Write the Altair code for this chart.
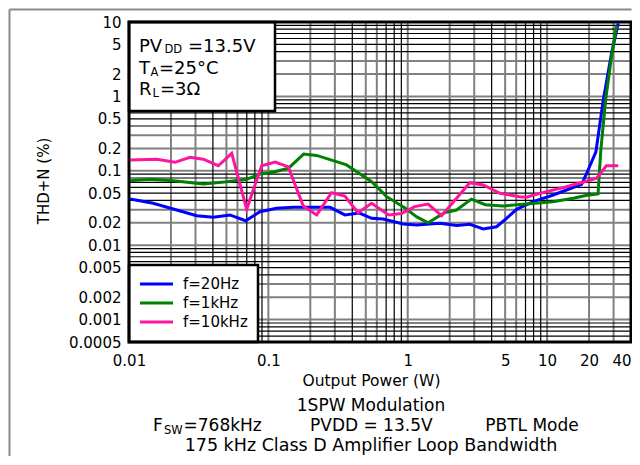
import altair as alt
import pandas as pd

# ---------------- data ----------------
series_names = ["f=20Hz", "f=1kHz", "f=10kHz"]
series_colors = ["#0000ff", "#008000", "#ff14a0"]

p20_x = [0.0102, 0.0149, 0.022, 0.0306, 0.0403, 0.053, 0.0687, 0.087, 0.1146, 0.151,
         0.277, 0.354, 0.45, 0.551, 0.667, 0.928, 1.16, 1.70, 2.24, 2.79, 3.48, 4.34,
         5.12, 6.04, 7.95, 11.07, 17.7, 19.7, 22.4, 25.3, 29.0, 32.4]
p20_y = [0.0418, 0.0366, 0.0297, 0.0249, 0.0237, 0.0255, 0.0213, 0.0282, 0.0313, 0.0323,
         0.0323, 0.0255, 0.027, 0.023, 0.0225, 0.0193, 0.0187, 0.0197, 0.0184, 0.0191, 0.0165, 0.0177,
         0.023, 0.0304, 0.0385, 0.0473, 0.0659, 0.1025, 0.18, 0.895, 3.8, 9.6]

p1k_x = [0.0102, 0.0141, 0.0208, 0.0341, 0.0502, 0.0699, 0.0871, 0.108, 0.139, 0.179,
         0.222, 0.292, 0.364, 0.45, 0.551, 0.706, 0.95, 1.16, 1.40, 1.85, 2.24, 2.86,
         3.6, 4.8, 7.1, 11.0, 15.4, 19.3, 23.2, 24.3, 26.3, 29.0, 31.5]
p1k_y = [0.0736, 0.0769, 0.0736, 0.0665, 0.0713, 0.0769, 0.0906, 0.0955, 0.108, 0.168,
         0.161, 0.137, 0.12, 0.092, 0.0713, 0.0449, 0.032, 0.024, 0.02, 0.0275, 0.0297, 0.0416,
         0.035, 0.0336, 0.0358, 0.0385, 0.0427, 0.0468, 0.0488, 0.19, 0.895, 3.42, 8.9]

p10k_x = [0.0102, 0.0158, 0.0214, 0.0274, 0.0341, 0.0437, 0.0546, 0.0699, 0.0895, 0.112,
          0.139, 0.178, 0.222, 0.284, 0.354, 0.44, 0.551, 0.728, 0.903, 1.12, 1.40, 1.75,
          2.24, 2.79, 3.48, 4.59, 6.33, 7.1, 9.9, 13.8, 19.3, 22.7, 26.6, 32.4]
p10k_y = [0.14, 0.143, 0.13, 0.152, 0.143, 0.117, 0.172, 0.0304, 0.117, 0.131,
          0.113, 0.0336, 0.0255, 0.0508, 0.0458, 0.0273, 0.0366, 0.0255, 0.0266, 0.033, 0.0358, 0.0249,
          0.0427, 0.0692, 0.0645, 0.0499, 0.0449, 0.0442, 0.0525, 0.0611, 0.073, 0.0794, 0.117, 0.117]

x_ticks = [0.01, 0.1, 1, 5, 10, 20, 40]
y_ticks = [10, 5, 2, 1, 0.5, 0.2, 0.1, 0.05, 0.02, 0.01, 0.005, 0.002, 0.001, 0.0005]

x_domain = [0.01, 40]
y_domain = [0.0005, 10]

FONT = "DejaVu Sans"
W, H = 502, 320

# ---------------- tables ----------------
rows = []
for name, xs_, ys_ in zip(series_names, [p20_x, p1k_x, p10k_x], [p20_y, p1k_y, p10k_y]):
    for i, (a, b) in enumerate(zip(xs_, ys_)):
        rows.append({"series": name, "power": a, "thd": b, "idx": i})
df = pd.DataFrame(rows)

# log grid lines (1..9 per decade)
gx = []
for d in [0.01, 0.1, 1, 10]:
    for k in range(1, 10):
        v = round(k * d, 6)
        if x_domain[0] < v < x_domain[1]:
            gx.append({"v": v, "kind": "grey" if k in (1, 2, 3, 5, 6) else "black"})
gy = []
for d in [0.0001, 0.001, 0.01, 0.1, 1]:
    for k in range(1, 10):
        v = round(k * d, 6)
        if y_domain[0] < v < y_domain[1]:
            gy.append({"v": v, "kind": "grey" if k in (1, 2, 3) else "black"})
gx = pd.DataFrame(gx)
gy = pd.DataFrame(gy)

xs = alt.Scale(type="log", domain=x_domain, nice=False)
ys = alt.Scale(type="log", domain=y_domain, nice=False)
cs = alt.Scale(domain=series_names, range=series_colors)

x_axis = alt.Axis(values=x_ticks, format="~g", grid=False, ticks=False, tickSize=0, domain=False,
                  labelFont=FONT, labelFontSize=15, labelColor="black", labelPadding=11,
                  labelAlign=alt.condition("datum.value >= 40", alt.value("right"), alt.value("center")),
                  title="Output Power (W)", titleFont=FONT, titleFontSize=15.5, titleFontWeight="normal",
                  titleColor="black", titleX=242, titleY=43, titleAlign="center", titleBaseline="alphabetic")
y_axis = alt.Axis(values=y_ticks, format="~g", grid=False, ticks=False, tickSize=0, domain=False,
                  labelFont=FONT, labelFontSize=15, labelColor="black", labelPadding=8,
                  title="THD+N (%)", titleFont=FONT, titleFontSize=15, titleFontWeight="normal",
                  titleColor="black", titleX=-85.5, titleY=158.5, titleAngle=270,
                  titleAlign="center", titleBaseline="middle")


def vgrid(kind, color, w):
    return alt.Chart(gx).transform_filter(alt.datum.kind == kind).mark_rule(
        color=color, strokeWidth=w).encode(x=alt.X("v:Q", scale=xs, axis=x_axis))


def hgrid(kind, color, w):
    return alt.Chart(gy).transform_filter(alt.datum.kind == kind).mark_rule(
        color=color, strokeWidth=w).encode(y=alt.Y("v:Q", scale=ys, axis=y_axis))


grid = [vgrid("grey", "#808080", 2), hgrid("grey", "#808080", 2),
        vgrid("black", "#000000", 1.2), hgrid("black", "#000000", 1.2)]


def series_layer(name):
    return alt.Chart(df).transform_filter(alt.datum.series == name).mark_line(
        strokeWidth=3, clip=True).encode(
        x=alt.X("power:Q", scale=xs, axis=x_axis),
        y=alt.Y("thd:Q", scale=ys, axis=y_axis),
        color=alt.Color("series:N", scale=cs, legend=None),
        order="idx:Q")


lines = [series_layer(n) for n in series_names]

one = pd.DataFrame({"a": [0]})


def box(x1, x2, y1, y2, sw):
    return alt.Chart(one).mark_rect(fill="white", stroke="black", strokeWidth=sw).encode(
        x=alt.value(x1), x2=alt.value(x2), y=alt.value(y1), y2=alt.value(y2))


def txt(s, x, y, size, align="left"):
    return alt.Chart(one).mark_text(align=align, baseline="alphabetic", font=FONT,
                                    fontSize=size, color="black").encode(
        x=alt.value(x), y=alt.value(y), text=alt.value(s))


# annotation box (top left)
annot = [box(0, 146, 0, 89, 2.5),
         txt("PV", 10, 29.7, 18), txt("DD", 35.5, 31.3, 11.5), txt("=13.5V", 59, 29.7, 18),
         txt("T", 10, 51.5, 18), txt("A", 21.5, 54, 11.5), txt("=25°C", 30, 51.5, 18),
         txt("R", 10, 72.5, 18), txt("L", 23.5, 75, 11.5), txt("=3Ω", 31, 72.5, 18)]

# legend (bottom left)
leg = [box(0, 129, 243, 320, 2.5)]
for i, (name, col) in enumerate(zip(series_names, series_colors)):
    leg.append(alt.Chart(one).mark_rule(color=col, strokeWidth=3).encode(
        x=alt.value(11), x2=alt.value(44), y=alt.value(262 + 19 * i)))
    leg.append(txt(name, 54, 267.3 + 19 * i, 15))

# plot frame
frame = alt.Chart(one).mark_rect(fill="white", fillOpacity=0, stroke="black", strokeWidth=3).encode(
    x=alt.value(0), x2=alt.value(W), y=alt.value(0), y2=alt.value(H))

# outer grey border (top and left)
outer = [alt.Chart(one).mark_rule(color="#8a8a8a", strokeWidth=2).encode(
             x=alt.value(-119.5), x2=alt.value(502.5), y=alt.value(-12.5)),
         alt.Chart(one).mark_rule(color="#8a8a8a", strokeWidth=2).encode(
             x=alt.value(-119.5), y=alt.value(-12.5), y2=alt.value(434))]

# captions below the chart
caps = [txt("1SPW Modulation", 242, 389, 17, "center"),
        txt("F", 24, 409, 17), txt("SW", 35, 412, 11.5), txt("=768kHz", 54.5, 409, 17),
        txt("PVDD = 13.5V", 181, 409, 17),
        txt("PBTL Mode", 403, 409, 17, "center"),
        txt("175 kHz Class D Amplifier Loop Bandwidth", 242, 429, 17.5, "center")]

chart = alt.layer(*grid, *lines, *annot, *leg, frame, *outer, *caps).properties(
    width=W, height=H,
    autosize=alt.AutoSizeParams(type="none"),
    padding={"left": 121, "top": 14, "right": 1, "bottom": 115},
    background="white",
).configure_view(stroke=None)

chart.save("out.html", embed_options={"renderer": "svg", "actions": False})
